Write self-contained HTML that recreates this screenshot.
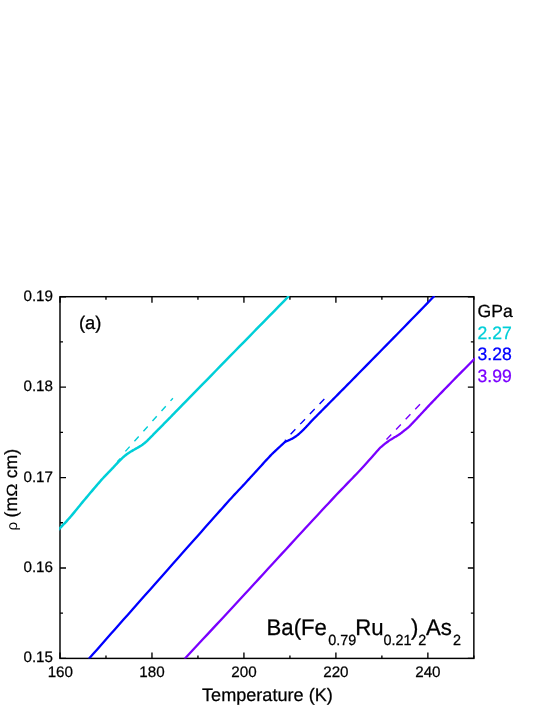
<!DOCTYPE html>
<html>
<head>
<meta charset="utf-8">
<style>
html,body{margin:0;padding:0;background:#fff;}
body{width:545px;height:705px;overflow:hidden;position:relative;font-family:"Liberation Sans",sans-serif;}
svg{position:absolute;left:0;top:0;will-change:transform;}
text{font-family:"Liberation Sans",sans-serif;fill:#000;text-rendering:geometricPrecision;}
</style>
</head>
<body>
<svg width="545" height="705" viewBox="0 0 545 705">
<rect x="0" y="0" width="545" height="705" fill="#fff"/>
<defs>
<clipPath id="pc"><rect x="59.20" y="296.00" width="415.55" height="362.50"/></clipPath>
</defs>
<rect x="60.0" y="296.7" width="413.85" height="361.70" fill="none" stroke="#000" stroke-width="1.45"/>
<path d="M60.00 658.40 v-6 M60.00 296.70 v6 M105.98 658.40 v-3 M105.98 296.70 v3 M151.97 658.40 v-6 M151.97 296.70 v6 M197.95 658.40 v-3 M197.95 296.70 v3 M243.93 658.40 v-6 M243.93 296.70 v6 M289.92 658.40 v-3 M289.92 296.70 v3 M335.90 658.40 v-6 M335.90 296.70 v6 M381.88 658.40 v-3 M381.88 296.70 v3 M427.87 658.40 v-6 M427.87 296.70 v6 M473.85 658.40 v-3 M473.85 296.70 v3 M60.00 658.40 h6 M473.85 658.40 h-6 M60.00 613.19 h3 M473.85 613.19 h-3 M60.00 567.98 h6 M473.85 567.98 h-6 M60.00 522.76 h3 M473.85 522.76 h-3 M60.00 477.55 h6 M473.85 477.55 h-6 M60.00 432.34 h3 M473.85 432.34 h-3 M60.00 387.12 h6 M473.85 387.12 h-6 M60.00 341.91 h3 M473.85 341.91 h-3 M60.00 296.70 h6 M473.85 296.70 h-6" stroke="#000" stroke-width="1.35" fill="none"/>
<g clip-path="url(#pc)" fill="none" stroke-linejoin="round" stroke-linecap="butt">
  <path d="M125.4 451.4 L172.9 398.2" stroke="#00CFD8" stroke-width="1.4" stroke-dasharray="6.4 7.15"/>
  <path d="M290.6 434.2 L324.6 398.7" stroke="#0000FF" stroke-width="1.4" stroke-dasharray="6.9 7.05"/>
  <path d="M386.5 439.6 L420.0 404.2" stroke="#7A00FF" stroke-width="1.4" stroke-dasharray="6.9 7.05"/>
  <path d="M58.30 529.90 L59.23 528.91 L60.14 527.96 L61.03 527.03 L61.91 526.11 L62.80 525.19 L63.69 524.26 L64.60 523.30 L65.53 522.31 L66.49 521.28 L67.48 520.19 L68.51 519.04 L69.60 517.80 L70.74 516.48 L71.92 515.08 L73.14 513.62 L74.40 512.10 L75.69 510.53 L76.99 508.93 L78.32 507.31 L79.66 505.67 L81.00 504.03 L82.34 502.40 L83.68 500.78 L85.00 499.20 L86.34 497.60 L87.73 495.95 L89.16 494.26 L90.60 492.56 L92.04 490.85 L93.48 489.15 L94.90 487.48 L96.28 485.87 L97.62 484.31 L98.89 482.84 L100.09 481.46 L101.20 480.20 L102.23 479.04 L103.21 477.97 L104.14 476.97 L105.02 476.04 L105.85 475.17 L106.63 474.36 L107.37 473.61 L108.07 472.90 L108.73 472.23 L109.35 471.59 L109.94 470.98 L110.50 470.40 L111.00 469.87 L111.43 469.41 L111.80 469.01 L112.11 468.67 L112.39 468.36 L112.64 468.09 L112.88 467.83 L113.11 467.58 L113.34 467.32 L113.60 467.05 L113.88 466.74 L114.20 466.40 L114.55 466.03 L114.92 465.64 L115.29 465.25 L115.67 464.85 L116.06 464.44 L116.45 464.03 L116.84 463.62 L117.24 463.21 L117.64 462.80 L118.03 462.39 L118.42 461.99 L118.80 461.60 L119.18 461.21 L119.55 460.82 L119.93 460.43 L120.30 460.04 L120.68 459.66 L121.05 459.28 L121.42 458.90 L121.80 458.52 L122.17 458.15 L122.55 457.79 L122.92 457.44 L123.30 457.10 L123.68 456.77 L124.06 456.44 L124.44 456.12 L124.83 455.81 L125.21 455.50 L125.59 455.20 L125.98 454.90 L126.36 454.61 L126.75 454.33 L127.13 454.05 L127.52 453.77 L127.90 453.50 L128.28 453.23 L128.67 452.97 L129.05 452.72 L129.43 452.47 L129.82 452.23 L130.20 451.99 L130.58 451.75 L130.97 451.52 L131.35 451.29 L131.73 451.06 L132.12 450.83 L132.50 450.60 L132.88 450.37 L133.27 450.15 L133.65 449.93 L134.03 449.72 L134.42 449.51 L134.80 449.29 L135.18 449.08 L135.57 448.87 L135.95 448.66 L136.33 448.44 L136.72 448.22 L137.10 448.00 L137.48 447.78 L137.87 447.55 L138.25 447.33 L138.63 447.11 L139.02 446.89 L139.40 446.66 L139.78 446.43 L140.17 446.20 L140.55 445.96 L140.93 445.72 L141.32 445.46 L141.70 445.20 L142.08 444.93 L142.47 444.66 L142.85 444.38 L143.23 444.10 L143.62 443.81 L144.00 443.51 L144.38 443.21 L144.77 442.90 L145.15 442.59 L145.53 442.27 L145.92 441.94 L146.30 441.60 L146.68 441.25 L147.07 440.89 L147.46 440.51 L147.85 440.13 L148.24 439.73 L148.63 439.34 L149.02 438.94 L149.40 438.54 L149.79 438.15 L150.16 437.76 L150.53 437.37 L150.90 437.00 L151.24 436.66 L151.53 436.36 L151.80 436.09 L152.04 435.83 L152.29 435.58 L152.54 435.31 L152.82 435.03 L153.13 434.70 L153.49 434.33 L153.92 433.90 L154.41 433.39 L155.00 432.80 L155.67 432.12 L156.41 431.37 L157.22 430.56 L158.08 429.70 L158.99 428.78 L159.94 427.83 L160.92 426.83 L161.93 425.81 L162.96 424.78 L164.01 423.72 L165.05 422.66 L166.10 421.60 L167.05 420.64 L167.84 419.84 L168.53 419.13 L169.19 418.46 L169.87 417.77 L170.62 417.00 L171.51 416.09 L172.59 414.99 L173.92 413.62 L175.56 411.94 L177.57 409.89 L180.00 407.40 L182.87 404.46 L186.14 401.11 L189.75 397.41 L193.66 393.41 L197.82 389.15 L202.19 384.67 L206.71 380.04 L211.34 375.30 L216.03 370.50 L220.73 365.68 L225.41 360.90 L230.00 356.20 L234.60 351.50 L239.30 346.69 L244.10 341.78 L248.97 336.80 L253.91 331.75 L258.89 326.66 L263.91 321.54 L268.94 316.40 L273.97 311.26 L278.98 306.14 L283.96 301.05 L288.90 296.00" stroke="#00CFD8" stroke-width="2.5"/>
  <path d="M88.70 659.00 L93.06 654.07 L97.41 649.14 L101.76 644.21 L106.11 639.29 L110.46 634.36 L114.81 629.44 L119.16 624.51 L123.51 619.58 L127.88 614.64 L132.24 609.70 L136.62 604.75 L141.00 599.80 L145.45 594.77 L150.00 589.64 L154.61 584.43 L159.26 579.17 L163.92 573.92 L168.55 568.69 L173.12 563.54 L177.60 558.48 L181.96 553.56 L186.17 548.82 L190.19 544.29 L194.00 540.00 L197.64 535.90 L201.17 531.92 L204.59 528.06 L207.90 524.34 L211.08 520.75 L214.14 517.31 L217.06 514.02 L219.85 510.89 L222.49 507.92 L224.98 505.13 L227.32 502.52 L229.50 500.10 L231.46 497.93 L233.19 496.04 L234.70 494.39 L236.04 492.95 L237.24 491.68 L238.32 490.53 L239.32 489.48 L240.28 488.47 L241.23 487.48 L242.19 486.46 L243.20 485.38 L244.30 484.20 L245.44 482.97 L246.55 481.76 L247.64 480.57 L248.71 479.40 L249.77 478.24 L250.82 477.09 L251.86 475.94 L252.90 474.80 L253.94 473.66 L254.98 472.52 L256.04 471.36 L257.10 470.20 L258.20 469.00 L259.34 467.75 L260.50 466.47 L261.69 465.17 L262.87 463.87 L264.04 462.58 L265.18 461.33 L266.28 460.12 L267.33 458.98 L268.31 457.92 L269.20 456.95 L270.00 456.10 L270.69 455.37 L271.30 454.74 L271.81 454.21 L272.27 453.76 L272.66 453.38 L273.02 453.04 L273.35 452.73 L273.66 452.45 L273.96 452.17 L274.28 451.88 L274.62 451.56 L275.00 451.20 L275.40 450.82 L275.79 450.45 L276.18 450.08 L276.56 449.72 L276.95 449.36 L277.32 449.01 L277.70 448.65 L278.08 448.30 L278.46 447.95 L278.84 447.60 L279.22 447.25 L279.60 446.90 L280.00 446.54 L280.41 446.15 L280.84 445.76 L281.27 445.36 L281.71 444.97 L282.14 444.57 L282.55 444.20 L282.95 443.84 L283.32 443.50 L283.65 443.20 L283.95 442.93 L284.20 442.70 L284.40 442.52 L284.55 442.38 L284.67 442.28 L284.75 442.21 L284.80 442.16 L284.84 442.13 L284.86 442.11 L284.87 442.10 L284.89 442.09 L284.91 442.08 L284.95 442.05 L285.00 442.00 L285.00 442.00 L285.12 441.93 L285.24 441.87 L285.36 441.80 L285.47 441.74 L285.58 441.67 L285.70 441.61 L285.82 441.54 L285.94 441.47 L286.07 441.41 L286.20 441.34 L286.35 441.27 L286.50 441.20 L286.66 441.13 L286.81 441.07 L286.97 441.01 L287.13 440.96 L287.29 440.90 L287.46 440.84 L287.65 440.78 L287.84 440.71 L288.05 440.63 L288.28 440.53 L288.53 440.42 L288.80 440.30 L289.10 440.16 L289.42 440.01 L289.77 439.84 L290.13 439.67 L290.51 439.49 L290.91 439.29 L291.31 439.09 L291.71 438.89 L292.12 438.67 L292.52 438.45 L292.91 438.23 L293.30 438.00 L293.68 437.77 L294.06 437.53 L294.44 437.29 L294.83 437.04 L295.21 436.78 L295.59 436.52 L295.98 436.25 L296.36 435.97 L296.75 435.69 L297.13 435.40 L297.52 435.10 L297.90 434.80 L298.28 434.49 L298.67 434.16 L299.05 433.83 L299.43 433.49 L299.82 433.15 L300.20 432.79 L300.58 432.44 L300.97 432.07 L301.35 431.71 L301.73 431.34 L302.12 430.97 L302.50 430.60 L302.88 430.23 L303.27 429.85 L303.65 429.47 L304.03 429.08 L304.42 428.69 L304.80 428.30 L305.18 427.90 L305.57 427.51 L305.95 427.11 L306.33 426.71 L306.72 426.30 L307.10 425.90 L307.48 425.49 L307.87 425.08 L308.25 424.66 L308.63 424.24 L309.02 423.82 L309.40 423.40 L309.78 422.98 L310.17 422.56 L310.55 422.14 L310.93 421.72 L311.32 421.31 L311.70 420.90 L312.08 420.50 L312.47 420.10 L312.85 419.70 L313.23 419.31 L313.62 418.92 L314.00 418.52 L314.38 418.14 L314.77 417.75 L315.15 417.36 L315.53 416.97 L315.92 416.59 L316.30 416.20 L316.67 415.83 L317.02 415.47 L317.36 415.14 L317.69 414.81 L318.02 414.48 L318.36 414.14 L318.71 413.80 L319.08 413.43 L319.48 413.03 L319.91 412.60 L320.38 412.12 L320.90 411.60 L321.43 411.06 L321.95 410.54 L322.47 410.02 L323.00 409.48 L323.55 408.92 L324.15 408.31 L324.80 407.65 L325.53 406.92 L326.33 406.10 L327.24 405.19 L328.26 404.16 L329.40 403.00 L330.63 401.76 L331.91 400.47 L333.24 399.12 L334.65 397.71 L336.14 396.21 L337.73 394.61 L339.43 392.90 L341.25 391.06 L343.20 389.09 L345.30 386.96 L347.57 384.67 L350.00 382.20 L352.64 379.52 L355.49 376.62 L358.53 373.54 L361.73 370.29 L365.07 366.90 L368.51 363.39 L372.04 359.81 L375.62 356.16 L379.24 352.48 L382.85 348.79 L386.45 345.12 L390.00 341.50 L393.55 337.88 L397.15 334.19 L400.79 330.46 L404.47 326.69 L408.19 322.88 L411.93 319.05 L415.68 315.20 L419.44 311.34 L423.20 307.49 L426.95 303.64 L430.69 299.81 L434.40 296.00" stroke="#0000FF" stroke-width="2.3"/>
  <path d="M184.50 659.00 L189.13 654.02 L193.76 649.05 L198.40 644.07 L203.04 639.09 L207.68 634.10 L212.31 629.12 L216.95 624.15 L221.57 619.17 L226.20 614.20 L230.81 609.23 L235.41 604.26 L240.00 599.30 L244.62 594.29 L249.31 589.20 L254.05 584.06 L258.80 578.89 L263.54 573.72 L268.25 568.58 L272.91 563.50 L277.48 558.51 L281.95 553.64 L286.30 548.91 L290.49 544.36 L294.50 540.00 L298.36 535.82 L302.11 531.76 L305.75 527.81 L309.28 523.99 L312.71 520.29 L316.03 516.69 L319.26 513.21 L322.39 509.84 L325.43 506.58 L328.37 503.42 L331.23 500.36 L334.00 497.40 L336.66 494.57 L339.20 491.90 L341.63 489.36 L343.95 486.94 L346.18 484.64 L348.32 482.42 L350.39 480.28 L352.40 478.20 L354.35 476.17 L356.26 474.17 L358.14 472.18 L360.00 470.20 L361.85 468.20 L363.69 466.19 L365.50 464.19 L367.27 462.21 L369.00 460.29 L370.65 458.42 L372.22 456.65 L373.70 454.97 L375.07 453.42 L376.32 452.01 L377.44 450.77 L378.40 449.70 L379.17 448.85 L379.75 448.22 L380.15 447.78 L380.42 447.49 L380.58 447.33 L380.66 447.26 L380.70 447.24 L380.71 447.25 L380.74 447.26 L380.81 447.22 L380.95 447.11 L381.20 446.90 L381.52 446.62 L381.86 446.32 L382.23 446.01 L382.60 445.69 L382.99 445.36 L383.39 445.02 L383.80 444.69 L384.21 444.36 L384.61 444.03 L385.02 443.71 L385.41 443.40 L385.80 443.10 L386.18 442.81 L386.55 442.53 L386.93 442.25 L387.30 441.97 L387.68 441.70 L388.05 441.44 L388.42 441.17 L388.80 440.91 L389.17 440.66 L389.55 440.40 L389.92 440.15 L390.30 439.90 L390.68 439.65 L391.06 439.41 L391.44 439.17 L391.83 438.94 L392.21 438.70 L392.59 438.47 L392.98 438.25 L393.36 438.02 L393.75 437.79 L394.13 437.56 L394.52 437.33 L394.90 437.10 L395.28 436.87 L395.67 436.64 L396.05 436.42 L396.43 436.20 L396.82 435.97 L397.20 435.75 L397.58 435.52 L397.97 435.29 L398.35 435.06 L398.73 434.81 L399.12 434.56 L399.50 434.30 L399.88 434.03 L400.27 433.75 L400.65 433.46 L401.03 433.16 L401.42 432.86 L401.80 432.56 L402.18 432.25 L402.57 431.94 L402.95 431.63 L403.33 431.32 L403.72 431.01 L404.10 430.70 L404.48 430.40 L404.87 430.10 L405.25 429.81 L405.63 429.51 L406.02 429.22 L406.40 428.92 L406.78 428.62 L407.17 428.31 L407.55 428.00 L407.93 427.68 L408.32 427.34 L408.70 427.00 L409.08 426.64 L409.47 426.28 L409.85 425.90 L410.23 425.51 L410.62 425.12 L411.00 424.73 L411.38 424.32 L411.77 423.92 L412.15 423.51 L412.53 423.11 L412.92 422.70 L413.30 422.30 L413.68 421.90 L414.07 421.49 L414.46 421.08 L414.85 420.66 L415.24 420.25 L415.63 419.83 L416.02 419.42 L416.40 419.00 L416.79 418.59 L417.16 418.19 L417.53 417.79 L417.90 417.40 L418.24 417.03 L418.56 416.70 L418.85 416.39 L419.12 416.09 L419.40 415.79 L419.67 415.49 L419.97 415.18 L420.29 414.83 L420.64 414.45 L421.04 414.03 L421.49 413.55 L422.00 413.00 L422.55 412.41 L423.10 411.82 L423.67 411.20 L424.27 410.56 L424.90 409.88 L425.57 409.16 L426.29 408.38 L427.08 407.54 L427.93 406.63 L428.86 405.64 L429.88 404.57 L431.00 403.40 L432.21 402.13 L433.51 400.77 L434.89 399.33 L436.35 397.81 L437.88 396.22 L439.47 394.56 L441.12 392.85 L442.81 391.09 L444.56 389.29 L446.34 387.45 L448.16 385.59 L450.00 383.70 L451.90 381.76 L453.87 379.75 L455.92 377.68 L458.02 375.55 L460.16 373.38 L462.34 371.18 L464.55 368.96 L466.76 366.73 L468.97 364.49 L471.17 362.27 L473.35 360.07 L475.50 357.90" stroke="#7A00FF" stroke-width="2.3"/>
  <path d="M284.6 442.6 L285.3 439.6 L286.2 441.6 Z" fill="#0000FF" stroke="#0000FF" stroke-width="0.6"/>
  <path d="M117.2 461.8 L120.4 458.4" stroke="#00CFD8" stroke-width="1.4"/>
</g>
<text transform="translate(53.00 662.40)" font-size="15.2px" text-anchor="end" style="fill:#000;stroke:#000;stroke-width:0.25px">0.15</text>
<text transform="translate(53.00 571.98)" font-size="15.2px" text-anchor="end" style="fill:#000;stroke:#000;stroke-width:0.25px">0.16</text>
<text transform="translate(53.00 481.55)" font-size="15.2px" text-anchor="end" style="fill:#000;stroke:#000;stroke-width:0.25px">0.17</text>
<text transform="translate(53.00 391.12)" font-size="15.2px" text-anchor="end" style="fill:#000;stroke:#000;stroke-width:0.25px">0.18</text>
<text transform="translate(53.00 300.70)" font-size="15.2px" text-anchor="end" style="fill:#000;stroke:#000;stroke-width:0.25px">0.19</text>
<text transform="translate(60.30 676.70)" font-size="15.2px" text-anchor="middle" style="fill:#000;stroke:#000;stroke-width:0.25px">160</text>
<text transform="translate(151.97 676.70)" font-size="15.2px" text-anchor="middle" style="fill:#000;stroke:#000;stroke-width:0.25px">180</text>
<text transform="translate(243.93 676.70)" font-size="15.2px" text-anchor="middle" style="fill:#000;stroke:#000;stroke-width:0.25px">200</text>
<text transform="translate(335.90 676.70)" font-size="15.2px" text-anchor="middle" style="fill:#000;stroke:#000;stroke-width:0.25px">220</text>
<text transform="translate(427.87 676.70)" font-size="15.2px" text-anchor="middle" style="fill:#000;stroke:#000;stroke-width:0.25px">240</text>
<text transform="translate(267.40 700.60)" font-size="18.1px" text-anchor="middle" style="fill:#000;stroke:#000;stroke-width:0.25px">Temperature (K)</text>
<text transform="translate(17.30 517.50) rotate(-90)" font-size="17.7px" text-anchor="start" style="fill:#000;stroke:#000;stroke-width:0.25px">(m</text>
<text transform="translate(17.30 496.86) rotate(-90) scale(1 0.83)" font-size="17.7px" text-anchor="start" style="fill:#000;stroke:#000;stroke-width:0.25px">Ω</text>
<text transform="translate(17.30 478.35) rotate(-90)" font-size="17.7px" text-anchor="start" style="fill:#000;stroke:#000;stroke-width:0.25px">cm)</text>
<text transform="translate(17.30 530.60) rotate(-90) scale(1.02 0.97)" font-size="15px" text-anchor="start" style="fill:#000;stroke:#000;stroke-width:0px">ρ</text>
<text transform="translate(79.00 328.60)" font-size="18.4px" text-anchor="start" style="fill:#000;stroke:#000;stroke-width:0.25px">(a)</text>
<text transform="translate(266.50 635.20) scale(1 1.02)" font-size="22.2px" text-anchor="start" style="fill:#000;stroke:#000;stroke-width:0.25px">Ba(Fe</text>
<text transform="translate(328.20 645.20) scale(1 1.02)" font-size="14.4px" text-anchor="start" style="fill:#000;stroke:#000;stroke-width:0.25px">0.79</text>
<text transform="translate(355.30 635.20) scale(1 1.02)" font-size="22.2px" text-anchor="start" style="fill:#000;stroke:#000;stroke-width:0.25px">Ru</text>
<text transform="translate(383.50 645.20) scale(1 1.02)" font-size="14.4px" text-anchor="start" style="fill:#000;stroke:#000;stroke-width:0.25px">0.21</text>
<text transform="translate(411.00 635.20) scale(1 1.02)" font-size="22.2px" text-anchor="start" style="fill:#000;stroke:#000;stroke-width:0.25px">)</text>
<text transform="translate(418.30 645.20) scale(1 1.02)" font-size="14.4px" text-anchor="start" style="fill:#000;stroke:#000;stroke-width:0.25px">2</text>
<text transform="translate(426.00 635.20) scale(1 1.02)" font-size="22.2px" text-anchor="start" style="fill:#000;stroke:#000;stroke-width:0.25px">As</text>
<text transform="translate(453.10 645.20) scale(1 1.02)" font-size="14.4px" text-anchor="start" style="fill:#000;stroke:#000;stroke-width:0.25px">2</text>
<text transform="translate(477.50 317.40)" font-size="17.6px" text-anchor="start" style="fill:#000;stroke:#000;stroke-width:0.25px">GPa</text>
<text transform="translate(477.50 338.60) scale(1 1.02)" font-size="17.6px" text-anchor="start" style="fill:#00CFD8;stroke:#00CFD8;stroke-width:0.25px">2.27</text>
<text transform="translate(477.50 360.40) scale(1 1.02)" font-size="17.6px" text-anchor="start" style="fill:#0000FF;stroke:#0000FF;stroke-width:0.25px">3.28</text>
<text transform="translate(477.50 381.80) scale(1 1.02)" font-size="17.6px" text-anchor="start" style="fill:#7A00FF;stroke:#7A00FF;stroke-width:0.25px">3.99</text>
</svg>
</body>
</html>
